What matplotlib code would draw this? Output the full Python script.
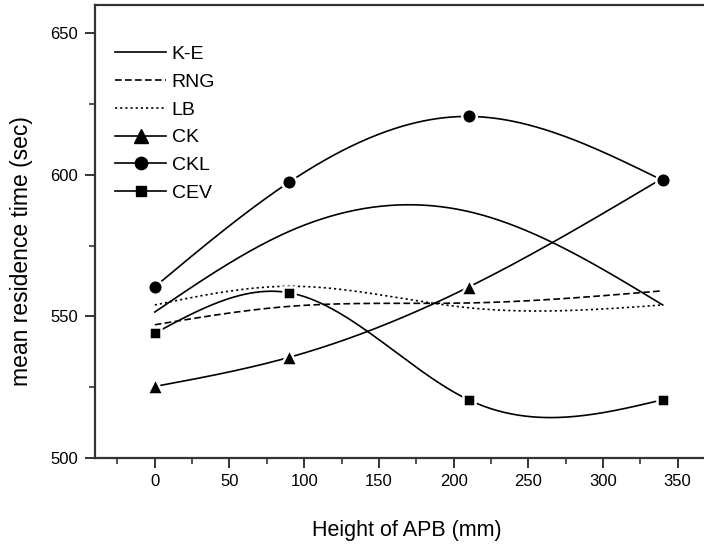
import numpy as np
import matplotlib.pyplot as plt

plt.rcParams["font.family"] = ["Liberation Sans", "DejaVu Sans"]

# APB heights (mm) at which each model was evaluated
height = [0, 90, 210, 340]

# mean residence time (sec) per turbulence model
ke = [551.5, 580.0, 587.0, 554.0]
rng = [547.0, 553.5, 554.7, 559.0]
lb = [554.0, 560.6, 553.0, 554.0]
ck = [525.2, 535.5, 560.3, 598.8]
ckl = [560.4, 597.4, 620.6, 598.0]
cev = [544.0, 558.3, 520.5, 520.5]


def smooth(x, y, n=300):
    # natural cubic spline through the points
    x = np.asarray(x, float)
    y = np.asarray(y, float)
    k = len(x)
    h = np.diff(x)
    A = np.zeros((k, k))
    b = np.zeros(k)
    A[0, 0] = A[-1, -1] = 1.0
    for i in range(1, k - 1):
        A[i, i - 1] = h[i - 1]
        A[i, i] = 2 * (h[i - 1] + h[i])
        A[i, i + 1] = h[i]
        b[i] = 6 * ((y[i + 1] - y[i]) / h[i] - (y[i] - y[i - 1]) / h[i - 1])
    m = np.linalg.solve(A, b)
    xs = np.linspace(x[0], x[-1], n)
    j = np.clip(np.searchsorted(x, xs) - 1, 0, k - 2)
    t0 = xs - x[j]
    t1 = x[j + 1] - xs
    hj = h[j]
    ys = (m[j] * t1 ** 3 / (6 * hj) + m[j + 1] * t0 ** 3 / (6 * hj)
          + (y[j] / hj - m[j] * hj / 6) * t1
          + (y[j + 1] / hj - m[j + 1] * hj / 6) * t0)
    return xs, ys


fig = plt.figure(figsize=(7.04, 5.45), dpi=100)
ax = fig.add_axes([0.135, 0.16, 0.87, 0.831])

lw = 1.2
ax.plot(*smooth(height, ke), color="black", lw=lw, label="K-E")
ax.plot(*smooth(height, rng), color="black", lw=lw, dashes=(4, 2), label="RNG")
ax.plot(*smooth(height, lb), color="black", lw=lw, dashes=(1.3, 1.8), label="LB")

marked = [
    (ck, "^", 11.5, "CK"),
    (ckl, "o", 10.5, "CKL"),
    (cev, "s", 9, "CEV"),
]
for values, marker, size, name in marked:
    xs, ys = smooth(height, values)
    ax.plot(xs, ys, color="black", lw=lw, zorder=2)
    ax.plot(height, values, ls="none", marker=marker, ms=size,
            mfc="black", mec="white", mew=1.8, zorder=3)
    # legend proxy: line with marker
    ax.plot([], [], color="black", lw=lw, marker=marker, ms=size * 0.85,
            mfc="black", mec="black", label=name)

ax.set_xlim(-40, 370)
ax.set_ylim(500, 660)
ax.set_xticks([0, 50, 100, 150, 200, 250, 300, 350])
ax.set_xticks(np.arange(-25, 370, 50), minor=True)
ax.set_yticks([500, 550, 600, 650])
ax.set_yticks([525, 575, 625], minor=True)

for side in ax.spines:
    ax.spines[side].set_linewidth(1.6)
    ax.spines[side].set_color("#333333")

ax.tick_params(which="major", direction="out", length=7, width=1.4,
               labelsize=12, color="#333333", pad=5)
ax.tick_params(which="minor", direction="out", length=4, width=1.2,
               color="#333333")

ax.set_xlabel("Height of APB (mm)", fontsize=15.5)
ax.set_ylabel("mean residence time (sec)", fontsize=16.5)
ax.xaxis.set_label_coords(0.509, -0.137)
ax.yaxis.set_label_coords(-0.101, 0.457)

ax.legend(loc="upper left", bbox_to_anchor=(0.033, 0.91), frameon=False,
          fontsize=14, handlelength=2.6, handletextpad=0.3,
          labelspacing=0.52, borderpad=0, borderaxespad=0)

fig.savefig("out.png", dpi=100)
plt.close(fig)
